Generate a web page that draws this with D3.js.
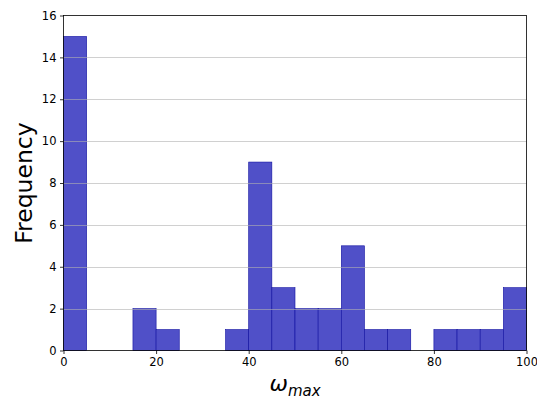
<!DOCTYPE html>
<html><head><meta charset="utf-8">
<script src="https://cdn.jsdelivr.net/npm/d3@7"></script>
<style>body{margin:0;background:#fff}svg{display:block}text{font-family:"DejaVu Sans",sans-serif}</style>
</head><body>
<script>
const binStarts = [0,5,10,15,20,25,30,35,40,45,50,55,60,65,70,75,80,85,90,95];
const counts = [15,0,0,2,1,0,0,1,9,3,2,2,5,1,1,0,1,1,1,3];
const xTicks = [0,20,40,60,80,100];
const yTicks = [0,2,4,6,8,10,12,14,16];
const binWidth = 5;

const W=537,H=399;
const m={l:63.5,r:10.5,t:15.5,b:49};
const svg=d3.select("body").append("svg").attr("width",W).attr("height",H);
const x=d3.scaleLinear().domain([0,100]).range([m.l,W-m.r]);
const y=d3.scaleLinear().domain([0,16]).range([H-m.b+0.5,m.t]);

svg.append("g").selectAll("rect").data(binStarts).join("rect")
 .attr("x",(d)=>x(d)).attr("width",d=>x(d+binWidth)-x(d))
 .attr("y",(d,i)=>y(counts[i])).attr("height",(d,i)=>y(0)-y(counts[i]))
 .attr("fill","#5050c8").attr("stroke","#1010a0").attr("stroke-width",0.6)
 .style("display",(d,i)=>counts[i]>0?null:"none");

// grid over bars
svg.append("g").selectAll("line").data(yTicks.filter(t=>t>0&&t<16)).join("line")
 .attr("x1",x(0)).attr("x2",x(100)).attr("y1",d=>Math.round(y(d))+0.5).attr("y2",d=>Math.round(y(d))+0.5)
 .attr("stroke","#b0b0b0").attr("stroke-opacity",0.6).attr("stroke-width",1);

const xa=svg.append("g").attr("transform",`translate(0,${y(0)})`)
 .call(d3.axisBottom(x).tickValues(xTicks).tickSize(3.5).tickPadding(3.5).tickFormat(d3.format("d")));
const ya=svg.append("g").attr("transform",`translate(${x(0)},0)`)
 .call(d3.axisLeft(y).tickValues(yTicks).tickSize(3.5).tickPadding(3.5).tickFormat(d3.format("d")));
[xa,ya].forEach(a=>{a.select(".domain").remove();a.selectAll("text").attr("font-size",11.5).attr("fill","#000").attr("font-family","DejaVu Sans");a.selectAll("line").attr("stroke","#000").attr("stroke-width",0.8);});

svg.append("rect").attr("x",x(0)).attr("y",y(16)).attr("width",x(100)-x(0)).attr("height",y(0)-y(16))
 .attr("fill","none").attr("stroke","#000").attr("stroke-width",0.8);

svg.append("text").attr("transform",`translate(31.5,${(y(0)+y(16))/2}) rotate(-90)`)
 .attr("text-anchor","middle").attr("font-size",23.5).text("Frequency");

const xl=svg.append("text").attr("x",(x(0)+x(100))/2).attr("y",390.5).attr("text-anchor","middle").attr("font-size",22);
xl.append("tspan").attr("font-style","italic").text("ω");
xl.append("tspan").attr("font-style","italic").attr("font-size",15).attr("dy",5).text("max");
</script>
</body></html>
